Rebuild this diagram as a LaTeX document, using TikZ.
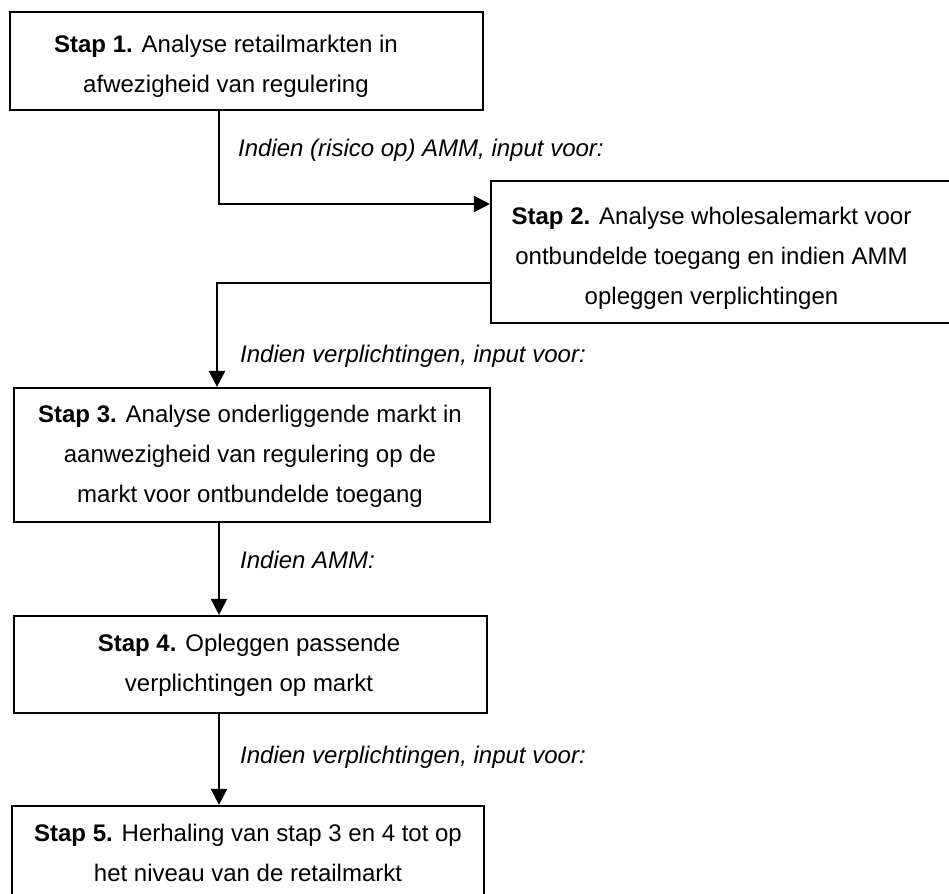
\documentclass[tikz,border=0pt]{standalone}
\usepackage{fontspec}
\setmainfont{Liberation Sans}
\usetikzlibrary{arrows.meta}
\begin{document}
\begin{tikzpicture}[x=1pt,y=-1pt,
  box/.style={draw=black, line width=2.2pt, inner sep=0pt, rectangle},
  txt/.style={inner sep=0pt, anchor=north, align=center, font=\fontsize{24}{40}\selectfont},
  lbl/.style={inner sep=0pt, anchor=base west, font=\fontsize{24}{40}\selectfont\itshape},
  arr/.style={line width=2.2pt, -{Triangle[length=16pt,width=16pt]}}]
\useasboundingbox (0,0) rectangle (949,893);
\clip (0,0) rectangle (949,893);
% boxes
\node[box, minimum width=473pt, minimum height=98pt] (b1) at (246.5,61) {};
\node[box, minimum width=479pt, minimum height=142pt] (b2) at (730.5,252) {};
\node[box, minimum width=476pt, minimum height=134pt] (b3) at (252,455) {};
\node[box, minimum width=473pt, minimum height=97pt] (b4) at (250.5,664.5) {};
\node[box, minimum width=472pt, minimum height=100pt] (b5) at (248,856) {};
% texts
\node[txt] (t1) at (226,24.3) {\strut\textbf{Stap 1.} Analyse retailmarkten in\\\strut afwezigheid van regulering};
\node[txt] (t2) at (711.5,196.3) {\strut\textbf{Stap 2.} Analyse wholesalemarkt voor\\\strut ontbundelde toegang en indien AMM\\\strut opleggen verplichtingen};
\node[txt] (t3) at (250,394.3) {\strut\textbf{Stap 3.} Analyse onderliggende markt in\\\strut aanwezigheid van regulering op de\\\strut markt voor ontbundelde toegang};
\node[txt] (t4) at (249,623.3) {\strut\textbf{Stap 4.} Opleggen passende\\\strut verplichtingen op markt};
\node[txt] (t5) at (248,813.3) {\strut\textbf{Stap 5.} Herhaling van stap 3 en 4 tot op\\\strut het niveau van de retailmarkt};
% labels
\node[lbl] (l1) at (238,157) {Indien (risico op) AMM, input voor:};
\node[lbl] (l2) at (240,362) {Indien verplichtingen, input voor:};
\node[lbl] (l3) at (240,568) {Indien AMM:};
\node[lbl] (l4) at (240,763) {Indien verplichtingen, input voor:};
% connectors
\coordinate (k1) at (219,204);
\coordinate (k2) at (217,283);
\coordinate (k3) at (219,0);
\draw[arr] (b1.south -| k1) |- (b2.west |- k1);
\draw[arr] (b2.west |- k2) -| (b3.north -| k2);
\draw[arr] (b3.south -| k3) -- (b4.north -| k3);
\draw[arr] (b4.south -| k3) -- (b5.north -| k3);
\end{tikzpicture}
\end{document}
